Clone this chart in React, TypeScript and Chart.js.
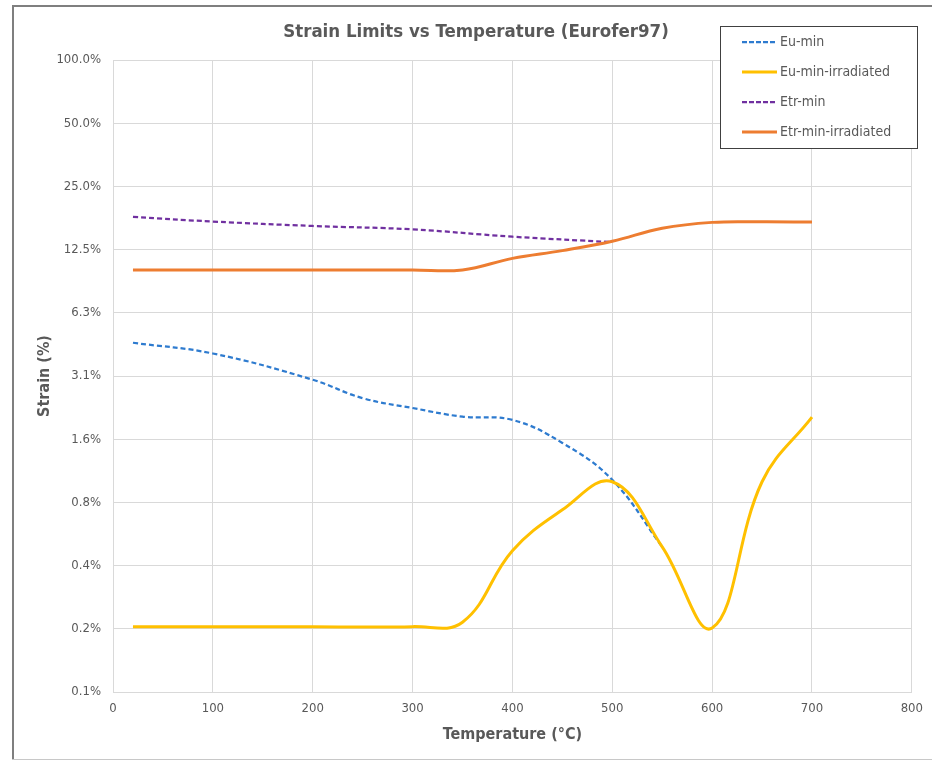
import React, { useEffect, useRef } from 'react';
import { Chart, registerables } from 'chart.js';

Chart.register(...registerables);

const FONT = "'Liberation Sans Narrow', 'DejaVu Sans Condensed', 'Open Sans', sans-serif";
const TEXT_COLOR = '#595959';
const GRID_COLOR = '#D9D9D9';

const chartTitle = 'Strain Limits vs Temperature (Eurofer97)';
const xAxisTitle = 'Temperature (°C)';
const yAxisTitle = 'Strain (%)';

const seriesNames = ['Eu-min', 'Eu-min-irradiated', 'Etr-min', 'Etr-min-irradiated'];

// Eu-min (fraction, 1 = 100%)
const euMinTemps = [20, 100, 200, 250, 300, 350, 400, 450, 500, 550];
const euMinValues = [0.045, 0.040, 0.030, 0.0245, 0.022, 0.020, 0.0193, 0.015, 0.0100, 0.0048];

// Eu-min-irradiated
const euIrrTemps = [20, 100, 200, 300, 350, 400, 450, 500, 550, 600, 650, 700];
const euIrrValues = [0.002, 0.002, 0.002, 0.002, 0.0021, 0.0046, 0.0072, 0.0098, 0.0048, 0.00197, 0.0098, 0.0199];

// Etr-min
const etrMinTemps = [20, 100, 200, 300, 400, 500];
const etrMinValues = [0.179, 0.170, 0.162, 0.156, 0.144, 0.1357];

// Etr-min-irradiated
const etrIrrTemps = [20, 100, 200, 300, 350, 400, 450, 500, 550, 600, 650, 700];
const etrIrrValues = [0.1, 0.1, 0.1, 0.1, 0.1, 0.1135, 0.1236, 0.137, 0.158, 0.1685, 0.1695, 0.169];

const xTickValues = [0, 100, 200, 300, 400, 500, 600, 700, 800];
const yTickValues = [0.0009765625, 0.001953125, 0.00390625, 0.0078125, 0.015625, 0.03125, 0.0625, 0.125, 0.25, 0.5, 1];
const yTickLabels = ['0.1%', '0.2%', '0.4%', '0.8%', '1.6%', '3.1%', '6.3%', '12.5%', '25.0%', '50.0%', '100.0%'];

const toPoints = (xs: number[], ys: number[]) => xs.map((x, i) => ({ x, y: ys[i] }));

const decorPlugin = {
  id: 'decor',
  beforeDraw(chart: any) {
    const ctx = chart.ctx;
    ctx.save();
    ctx.fillStyle = '#ffffff';
    ctx.fillRect(0, 0, chart.width, chart.height);
    // outer frame
    ctx.fillStyle = '#7f7f7f';
    ctx.fillRect(12, 5, 2, 755);
    ctx.fillRect(12, 5, chart.width - 12, 2);
    ctx.fillStyle = '#c8c8c8';
    ctx.fillRect(12, 759, chart.width - 12, 1);
    // title
    ctx.fillStyle = TEXT_COLOR;
    ctx.font = `bold 18.5px ${FONT}`;
    ctx.textAlign = 'center';
    ctx.textBaseline = 'middle';
    ctx.fillText(chartTitle, 476, 32);
    ctx.restore();
  },
  afterDraw(chart: any) {
    const ctx = chart.ctx;
    ctx.save();
    const bx = 720.5, by = 26.5, bw = 197, bh = 122;
    ctx.fillStyle = '#ffffff';
    ctx.fillRect(bx, by, bw, bh);
    ctx.strokeStyle = '#404040';
    ctx.lineWidth = 1;
    ctx.strokeRect(bx, by, bw, bh);
    chart.data.datasets.forEach((ds: any, i: number) => {
      const cy = 42 + i * 30;
      ctx.beginPath();
      ctx.strokeStyle = ds.borderColor;
      ctx.lineWidth = ds.borderWidth;
      ctx.setLineDash(ds.borderDash && ds.borderDash.length ? [5, 2] : []);
      ctx.moveTo(742, cy);
      ctx.lineTo(777, cy);
      ctx.stroke();
      ctx.setLineDash([]);
      ctx.fillStyle = TEXT_COLOR;
      ctx.font = `14px ${FONT}`;
      ctx.textAlign = 'left';
      ctx.textBaseline = 'middle';
      ctx.fillText(ds.label, 780, cy);
    });
    ctx.restore();
  },
};

export default function App() {
  const canvasRef = useRef<HTMLCanvasElement | null>(null);

  useEffect(() => {
    document.body.style.margin = '0';
    const canvas = canvasRef.current;
    if (!canvas) return;
    const chart = new Chart(canvas, {
      type: 'line',
      data: {
        datasets: [
          {
            label: seriesNames[0],
            data: toPoints(euMinTemps, euMinValues),
            borderColor: '#2E7BCF',
            borderWidth: 2.25,
            borderDash: [5, 3],
            pointRadius: 0,
            tension: 0.4,
            fill: false,
            order: 4,
          },
          {
            label: seriesNames[1],
            data: toPoints(euIrrTemps, euIrrValues),
            borderColor: '#FFC000',
            borderWidth: 3,
            pointRadius: 0,
            tension: 0.4,
            fill: false,
            order: 3,
          },
          {
            label: seriesNames[2],
            data: toPoints(etrMinTemps, etrMinValues),
            borderColor: '#7030A0',
            borderWidth: 2.25,
            borderDash: [5, 3],
            pointRadius: 0,
            tension: 0.4,
            fill: false,
            order: 2,
          },
          {
            label: seriesNames[3],
            data: toPoints(etrIrrTemps, etrIrrValues),
            borderColor: '#ED7D31',
            borderWidth: 3,
            pointRadius: 0,
            tension: 0.4,
            fill: false,
            order: 1,
          },
        ],
      },
      options: {
        animation: false,
        responsive: false,
        devicePixelRatio: 1,
        layout: { padding: { left: 0, right: 19, top: 60, bottom: 0 } },
        plugins: {
          legend: { display: false },
          title: { display: false },
          tooltip: { enabled: false },
        },
        scales: {
          x: {
            type: 'linear',
            min: 0,
            max: 800,
            afterBuildTicks: (scale: any) => {
              scale.ticks = xTickValues.map((v) => ({ value: v }));
            },
            afterFit: (scale: any) => {
              scale.height = 69;
            },
            grid: { color: GRID_COLOR, lineWidth: 1, drawTicks: false },
            border: { color: GRID_COLOR, width: 1 },
            ticks: {
              padding: 9,
              color: TEXT_COLOR,
              font: { family: FONT, size: 13 },
              maxRotation: 0,
            },
            title: {
              display: true,
              text: xAxisTitle,
              color: TEXT_COLOR,
              font: { family: FONT, size: 16, weight: 'bold' },
              padding: { top: 0, bottom: 17 },
            },
          },
          y: {
            type: 'logarithmic',
            min: yTickValues[0],
            max: yTickValues[yTickValues.length - 1],
            afterBuildTicks: (scale: any) => {
              scale.ticks = yTickValues.map((v) => ({ value: v }));
            },
            afterFit: (scale: any) => {
              scale.width = 113;
            },
            grid: { color: GRID_COLOR, lineWidth: 1, drawTicks: false },
            border: { color: GRID_COLOR, width: 1 },
            ticks: {
              padding: 12,
              color: TEXT_COLOR,
              font: { family: FONT, size: 13 },
              callback: (value: any) => {
                const i = yTickValues.indexOf(Number(value));
                return i >= 0 ? yTickLabels[i] : '';
              },
            },
            title: {
              display: true,
              text: yAxisTitle,
              color: TEXT_COLOR,
              font: { family: FONT, size: 16, weight: 'bold' },
              padding: { top: 35, bottom: 0 },
            },
          },
        },
      } as any,
      plugins: [decorPlugin],
    });
    return () => chart.destroy();
  }, []);

  return (
    <div style={{ width: 932, height: 761 }}>
      <canvas ref={canvasRef} width={932} height={761} style={{ display: 'block', width: 932, height: 761 }} />
    </div>
  );
}
